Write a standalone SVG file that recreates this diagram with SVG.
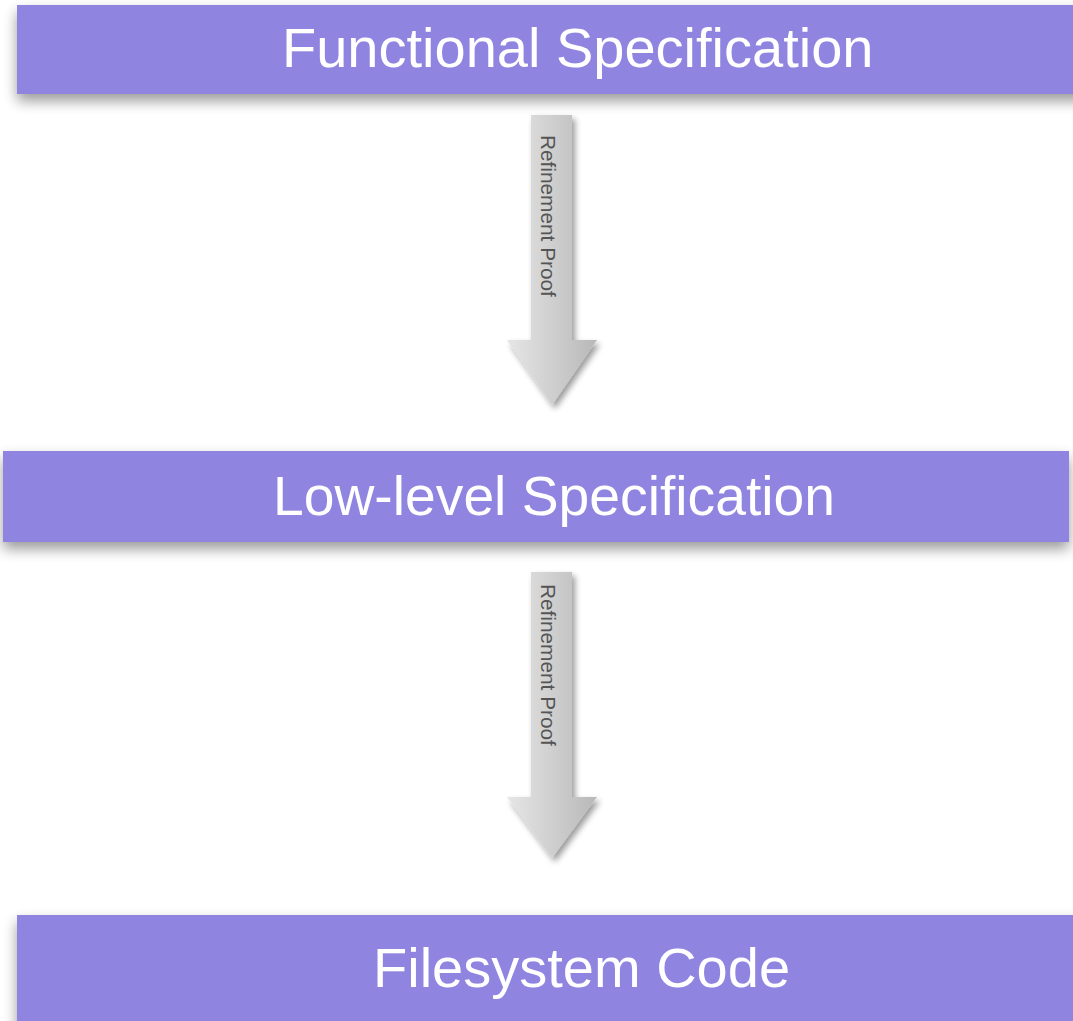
<svg xmlns="http://www.w3.org/2000/svg" width="1073" height="1021" viewBox="0 0 1073 1021">
  <defs>
    <filter id="shadow" x="-10%" y="-30%" width="120%" height="180%">
      <feGaussianBlur in="SourceAlpha" stdDeviation="7"/>
      <feOffset dx="0" dy="7" result="b"/>
      <feComponentTransfer><feFuncA type="linear" slope="0.4"/></feComponentTransfer>
      <feMerge><feMergeNode/><feMergeNode in="SourceGraphic"/></feMerge>
    </filter>
    <filter id="ashadow" x="-30%" y="-10%" width="160%" height="130%">
      <feGaussianBlur in="SourceAlpha" stdDeviation="3"/>
      <feOffset dx="3" dy="4" result="b"/>
      <feComponentTransfer><feFuncA type="linear" slope="0.4"/></feComponentTransfer>
      <feMerge><feMergeNode/><feMergeNode in="SourceGraphic"/></feMerge>
    </filter>
    <linearGradient id="agrad" x1="0" y1="0" x2="1" y2="0">
      <stop offset="0" stop-color="#e6e6e6"/>
      <stop offset="1" stop-color="#b8b8b8"/>
    </linearGradient>
  </defs>
  <style>
    .box { fill: #9084e1; filter: url(#shadow); }
    .title { font-family: "Liberation Sans", Arial, sans-serif; font-size: 56px; fill: #ffffff; }
    .arrow { fill: url(#agrad); filter: url(#ashadow); }
    .alabel { font-family: "Liberation Sans", Arial, sans-serif; font-size: 20.8px; fill: #555555; }
  </style>
  <rect width="1073" height="1021" fill="#ffffff"/>
  <g id="connectors">
    <g id="arrow1">
      <polygon class="arrow" points="531,115 572,115 572,340 597,340 552,405 507,340 531,340"/>
      <text class="alabel" transform="translate(541,135) rotate(90)">Refinement Proof</text>
    </g>
    <g id="arrow2">
      <polygon class="arrow" points="531,572 572,572 572,797 597,797 552,858 507,797 531,797"/>
      <text class="alabel" transform="translate(541,584) rotate(90)">Refinement Proof</text>
    </g>
  </g>
  <g id="node-functional">
    <rect class="box" x="17" y="5" width="1070" height="89"/>
    <text class="title" x="282" y="67">Functional Specification</text>
  </g>
  <g id="node-lowlevel">
    <rect class="box" x="3" y="451" width="1066" height="91"/>
    <text class="title" x="273" y="515" textLength="562" lengthAdjust="spacingAndGlyphs">Low-level Specification</text>
  </g>
  <g id="node-code">
    <rect class="box" x="17" y="915" width="1070" height="120"/>
    <text class="title" x="373" y="987">Filesystem Code</text>
  </g>
</svg>
